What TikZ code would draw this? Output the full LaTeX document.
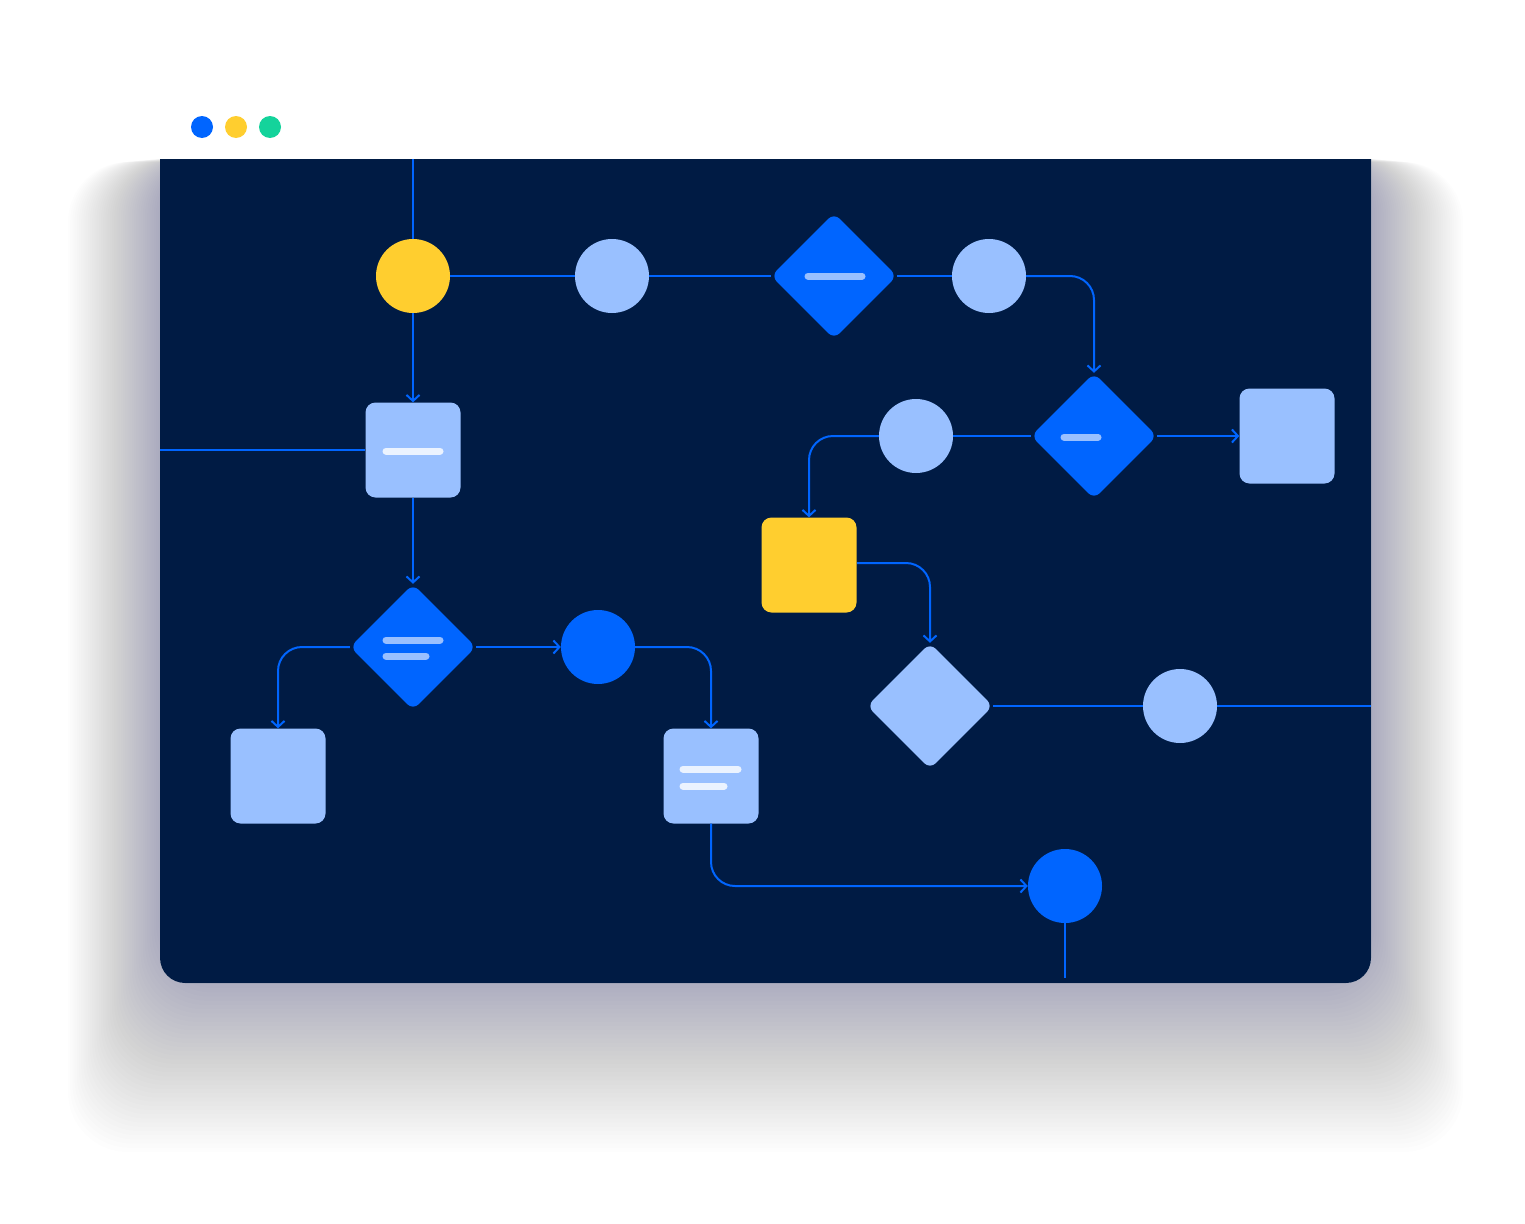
\documentclass[tikz,border=0pt]{standalone}
\usetikzlibrary{shapes.geometric,arrows.meta}
\definecolor{navy}{HTML}{001B44}
\definecolor{bblue}{HTML}{0065FF}
\definecolor{lblue}{HTML}{99C0FF}
\definecolor{ylw}{HTML}{FFCE2F}
\definecolor{grn}{HTML}{14D39B}
\definecolor{shd}{HTML}{1B2E55}
\tikzset{
 circ/.style={circle,minimum size=74pt,inner sep=0pt},
 sq/.style={rectangle,rounded corners=10pt,minimum size=95pt,inner sep=0pt},
 dia/.style={diamond,aspect=1,rounded corners=8pt,minimum size=126pt,inner sep=0pt},
 con/.style={draw=bblue,line width=2pt,rounded corners=24pt},
 arr/.style={con,-{Straight Barb[length=6pt,width=13pt,line width=2pt]}},
 bar/.style={line width=7pt,line cap=round},
}
\begin{document}
\begin{tikzpicture}[x=1pt,y=-1pt]
\useasboundingbox (0,0) rectangle (1525,1223);
\fill[white] (0,0) rectangle (1525,1223);
\foreach \i in {1,...,60}{
 \fill[shd,opacity=0.009,rounded corners=60pt] (200-\i*2.2,150+\i*0.2) rectangle (1331+\i*2.2,900+\i*4.2);
}
\fill[white,rounded corners=25pt] (160,97) rectangle (1371,983);
\fill[navy] (160,159) -- (1371,159) [rounded corners=25pt] -- (1371,983) -- (160,983) [sharp corners] -- (160,159) -- cycle;
\fill[bblue] (202,127) circle (11);
\fill[ylw] (236,127) circle (11);
\fill[grn] (270,127) circle (11);
% nodes
\node[circ,fill=ylw] (y1) at (413,276) {};
\node[circ,fill=lblue] (c1) at (612,276) {};
\node[dia,fill=bblue] (d1) at (834,276) {};
\node[circ,fill=lblue] (c2) at (989,276) {};
\node[dia,fill=bblue] (d2) at (1094,436) {};
\node[circ,fill=lblue] (c3) at (916,436) {};
\node[sq,fill=lblue] (s1) at (1287,436) {};
\node[sq,fill=lblue] (s2) at (413,450) {};
\node[sq,fill=ylw] (ys) at (809,565) {};
\node[dia,fill=bblue] (d3) at (413,647) {};
\node[circ,fill=bblue] (b1) at (598,647) {};
\node[sq,fill=lblue] (s3) at (278,776) {};
\node[sq,fill=lblue] (s4) at (711,776) {};
\node[dia,fill=lblue] (d4) at (930,706) {};
\node[circ,fill=lblue] (c4) at (1180,706) {};
\node[circ,fill=bblue] (b2) at (1065,886) {};
\coordinate (top) at (413,159);
\coordinate (lft) at (160,450);
\coordinate (rgt) at (1371,706);
\coordinate (bot) at (1065,978);
\coordinate (yse) at (857,563);
% bars
\draw[bar,lblue] (808,276) -- (862,276);
\draw[bar,lblue] (1064,437) -- (1098,437);
\draw[bar,white!80!lblue] (386,451) -- (440,451);
\draw[bar,lblue] (386,640) -- (440,640);
\draw[bar,lblue] (386,656) -- (426,656);
\draw[bar,white!80!lblue] (683,769) -- (738,769);
\draw[bar,white!80!lblue] (683,786) -- (724,786);
% connectors
\draw[con] (top) -- (y1.north);
\draw[arr] (y1.south) -- (s2.north);
\draw[con] (y1.east) -- (c1.west);
\draw[con] (c1.east) -- (d1.west);
\draw[con] (d1.east) -- (c2.west);
\draw[arr] (c2.east) -| (d2.north);
\draw[con] (lft) -- (s2.west);
\draw[arr] (s2.south) -- (d3.north);
\draw[arr] (d3.west) -| (s3.north);
\draw[arr] (d3.east) -- (b1.west);
\draw[arr] (b1.east) -| (s4.north);
\draw[arr] (s4.south) |- (b2.west);
\draw[con] (b2.south) -- (bot);
\draw[con] (d2.west) -- (c3.east);
\draw[arr] (c3.west) -| (ys.north);
\draw[arr] (d2.east) -- (s1.west);
\draw[arr] (yse) -| (d4.north);
\draw[con] (d4.east) -- (c4.west);
\draw[con] (c4.east) -- (rgt);
\end{tikzpicture}
\end{document}
